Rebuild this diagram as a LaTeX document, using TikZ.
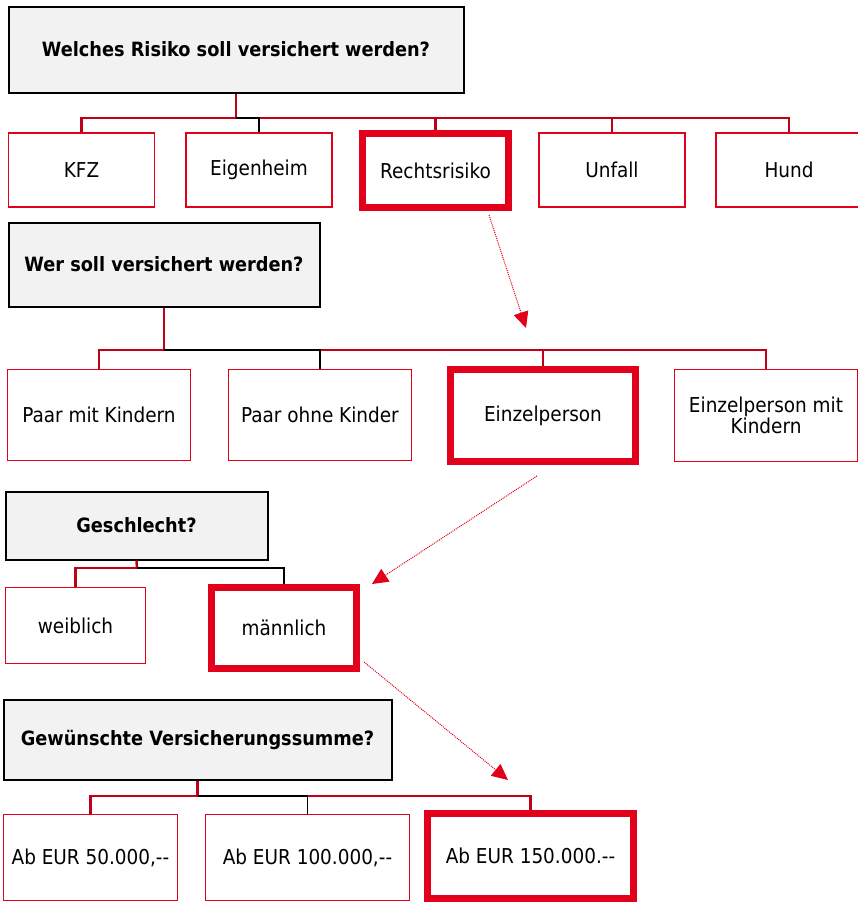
\documentclass[tikz,border=0pt]{standalone}
\usepackage{fontspec}
\setmainfont{DejaVu Sans Condensed}
\usetikzlibrary{arrows.meta}
\definecolor{qgray}{HTML}{F2F2F2}
\definecolor{selred}{HTML}{E2001A}
\definecolor{boxred}{HTML}{E2001A}
\definecolor{linered}{HTML}{BE0019}
\tikzset{
  qbox/.style={draw=black, line width=2pt, fill=qgray, inner sep=0pt, align=center,
    font=\bfseries\fontsize{19.7}{23}\selectfont},
  abox/.style={draw=boxred, line width=1.5pt, fill=white, inner sep=0pt, align=center,
    font=\fontsize{20.5}{23}\selectfont},
  selbox/.style={draw=selred, line width=7pt, fill=white, inner sep=0pt, align=center,
    font=\fontsize{20.5}{23}\selectfont},
  redline/.style={draw=linered, line width=2.5pt, line join=miter},
  blkline/.style={draw=black, line width=1.2pt},
  hint/.style={draw=selred, line width=1pt, dash pattern=on 1pt off 1pt,
    -{Triangle[length=16pt,width=15pt,fill=selred]}}
}
\begin{document}
\begin{tikzpicture}[x=1pt,y=-1pt]
\useasboundingbox (0,0) rectangle (858,902);
\fill[white] (0,0) rectangle (858,902);

% ---- level 1
\node[qbox, minimum width=455, minimum height=86] (q1) at (236,49.5) {Welches Risiko soll versichert werden?};
\node[abox, minimum width=146, minimum height=74] (kfz) at (81.5,170) {KFZ};
\node[abox, minimum width=146, minimum height=74] (eig) at (259,170) {Eigenheim};
\node[selbox, minimum width=146, minimum height=74] (rec) at (435.5,170.5) {Rechtsrisiko};
\node[abox, minimum width=146, minimum height=74] (unf) at (612,170) {Unfall};
\node[abox, minimum width=146, minimum height=74] (hund) at (789,170) {Hund};
\coordinate (b1) at (236,118);
\draw[redline] (q1.south) -- (b1);
\draw[redline] (b1) -| (kfz.north);
\draw[redline] (b1) -| (rec.north);
\draw[redline] (b1) -| (unf.north);
\draw[redline] (b1) -| (hund.north);
\draw[blkline] (b1) -| (eig.north);

% ---- level 2
\node[qbox, minimum width=311, minimum height=84] (q2) at (164,264.5) {Wer soll versichert werden?};
\node[abox, minimum width=183, minimum height=91] (pmk) at (99,415) {Paar mit Kindern};
\node[abox, minimum width=183, minimum height=91] (pok) at (320,415) {Paar ohne Kinder};
\node[selbox, minimum width=185, minimum height=92] (ein) at (543,415.5) {Einzelperson};
\node[abox, minimum width=183, minimum height=92] (emk) at (766,415.5) {Einzelperson mit\\[-2pt]Kindern};
\coordinate (b2) at (164,350);
\draw[redline] (q2.south) -- (b2);
\draw[redline] (b2) -| (pmk.north);
\draw[redline] (b2) -| (ein.north);
\draw[redline] (b2) -| (emk.north);
\draw[blkline] (b2) -| (pok.north);

% ---- level 3
\node[qbox, minimum width=262, minimum height=68] (q3) at (136.5,525.5) {Geschlecht?};
\node[abox, minimum width=140, minimum height=76] (wei) at (75.5,625.5) {weiblich};
\node[selbox, minimum width=145, minimum height=81] (mae) at (284,628) {männlich};
\coordinate (b3) at (137,568);
\draw[redline] (q3.south) -- (b3);
\draw[redline] (b3) -| (wei.north);
\draw[blkline] (b3) -| (mae.north);

% ---- level 4
\node[qbox, minimum width=388, minimum height=80] (q4) at (197.5,739.5) {Gewünschte Versicherungssumme?};
\node[abox, minimum width=174, minimum height=86] (s50) at (90.5,857.5) {Ab EUR 50.000,-{}-};
\node[abox, minimum width=204, minimum height=86] (s100) at (307.5,857.5) {Ab EUR 100.000,-{}-};
\node[selbox, minimum width=206, minimum height=85] (s150) at (530.5,856) {Ab EUR 150.000.-{}-};
\coordinate (b4) at (197.5,796);
\draw[redline] (q4.south) -- (b4);
\draw[redline] (b4) -| (s50.north);
\draw[redline] (b4) -| (s150.north);
\draw[blkline] (b4) -| (s100.north);

% ---- hint arrows
\coordinate (h1s) at (489,215);
\coordinate (h1e) at (526,328);
\coordinate (h2s) at (537,476);
\coordinate (h2e) at (372,584);
\coordinate (h3s) at (364,662);
\coordinate (h3e) at (508,780);
\draw[hint] (h1s) -- (h1e);
\draw[hint] (h2s) -- (h2e);
\draw[hint] (h3s) -- (h3e);
\end{tikzpicture}
\end{document}
